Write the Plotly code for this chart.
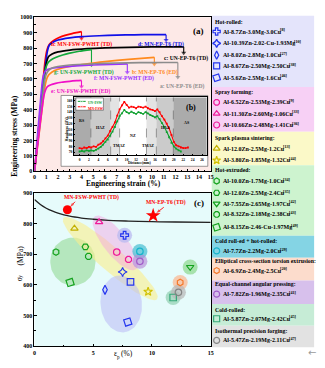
import numpy as np
import plotly.graph_objects as go

# ===================== DATA =====================
# Panel (a): engineering stress (MPa) vs engineering strain (%)
h_strain = [0, 0.5, 0.9, 1.05, 1.2, 1.4, 1.7, 2.1, 2.6, 3.2, 3.7, 4.0]
h_stress = [0, 400, 715, 785, 815, 835, 852, 868, 882, 894, 902, 907]
d_strain = [0, 0.5, 0.95, 1.1, 1.25, 1.5, 2.0, 3.0, 4.0, 5.5, 7.0, 8.5, 10.0, 11.2]
d_stress = [0, 370, 700, 780, 818, 835, 852, 866, 874, 880, 884, 886, 887, 887]
c_strain = [0, 0.5, 0.9, 1.05, 1.2, 1.5, 2.0, 3.0, 4.5, 6.0, 8.0, 10.0, 12.7]
c_stress = [0, 360, 650, 715, 745, 762, 775, 787, 796, 801, 805, 807, 808]
g_strain = [0, 0.5, 0.85, 1.0, 1.15, 1.4, 1.8, 2.4, 3.0, 3.8, 4.85]
g_stress = [0, 370, 630, 680, 705, 722, 738, 755, 767, 779, 790]
b_strain = [0, 0.5, 0.85, 1.0, 1.2, 1.5, 2.0, 3.0, 4.5, 6.0, 8.0, 10.2]
b_stress = [0, 310, 530, 590, 625, 645, 662, 680, 698, 712, 727, 740]
f_strain = [0, 0.4, 0.7, 0.85, 1.0, 1.3, 1.8, 2.5, 3.5, 5.0, 6.5, 7.9]
f_stress = [0, 360, 600, 640, 655, 665, 672, 678, 684, 690, 694, 697]
a_strain = [0, 0.5, 0.85, 1.0, 1.2, 1.5, 2.0, 3.0, 5.0, 7.0, 9.0, 11.0, 12.2]
a_stress = [0, 340, 580, 630, 655, 670, 680, 690, 698, 703, 705, 706, 706]
e_strain = [0, 0.5, 0.8, 0.95, 1.1, 1.4, 1.8, 2.3, 3.0, 3.6, 4.0]
e_stress = [0, 320, 490, 530, 550, 562, 571, 578, 584, 588, 590]

curve_labels = ["h: MN-FSW-PWHT (TD)", "d: MN-EP-T6 (TD)", "c: UN-EP-T6 (TD)",
                "g: UN-FSW-PWHT (TD)", "b: MN-EP-T6 (ED)", "f: MN-FSW-PWHT (ED)",
                "a: UN-EP-T6 (ED)", "e: UN-FSW-PWHT (ED)"]

# Inset (b): hardness profile
dist_mn = [0.0, 0.5, 1.0, 1.5, 2.0, 2.5, 3.0, 3.5, 4.0, 4.5, 5.0, 5.5, 6.0, 6.5, 7.0, 7.5,
           8.0, 8.5, 9.0, 9.5, 10.0, 10.5, 11.0, 11.5, 12.0, 12.5, 13.0, 13.5, 14.0, 14.5,
           15.0, 15.5, 16.0, 16.5, 17.0, 17.5, 18.0, 18.5, 19.0, 19.5, 20.0, 20.5, 21.0,
           21.5, 22.0, 22.5, 23.0]
hv_mn = [77, 76, 78, 77, 79, 78, 80, 79, 83, 85, 89, 94, 99, 107, 114, 122,
         134, 145, 152, 158, 153, 148, 150, 149, 147, 150, 149, 148, 150, 147,
         145, 144, 142, 145, 140, 133, 127, 120, 112, 100, 88, 82, 80,
         78, 77, 77, 78]
dist_un = [0.0, 0.5, 1.0, 1.5, 2.0, 2.5, 3.0, 3.5, 4.0, 4.5, 5.0, 5.5, 6.0, 6.5, 7.0, 7.5,
           8.0, 8.5, 9.0, 9.5, 10.0, 10.5, 11.0, 11.5, 12.0, 12.5, 13.0, 13.5, 14.0, 14.5,
           15.0, 15.5, 16.0, 16.5, 17.0, 17.5, 18.0, 18.5, 19.0, 19.5, 20.0, 20.5, 21.0, 21.5]
hv_un = [71, 72, 71, 73, 72, 73, 72, 74, 76, 79, 83, 88, 92, 99, 106, 114,
         124, 133, 138, 144, 140, 138, 141, 139, 137, 140, 139, 137, 140, 138,
         135, 133, 131, 133, 128, 121, 114, 105, 96, 86, 80, 76, 73, 71]
zone_names = ["RS", "HAZ", "TMAZ", "NZ", "TMAZ", "HAZ", "AS"]
zone_edges = [-1.2, 2.4, 6.6, 8.5, 14.2, 16.3, 19.9, 27.0]

# Panel (c): yield strength vs plastic elongation
group_names = ["Hot-rolled:", "Spray forming:", "Spark plasma sintering:", "Hot-extruded:",
               "Cold roll-ed + hot-rolled:", "Elliptical cross-section torsion extrusion:",
               "Equal-channel angular pressing:", "Cold-rolled:", "Isothermal precision forging:"]
group_sizes = [5, 3, 2, 5, 1, 1, 1, 1, 1]
alloys = ["Al-8.7Zn-3.0Mg-3.0Cu", "Al-10.39Zn-2.02-Cu-1.93Mg", "Al-8.0Zn-2.8Mg-1.0Cu",
          "Al-8.67Zn-2.50Mg-2.50Cu", "Al-5.6Zn-2.5Mg-1.6Cu",
          "Al-6.52Zn-2.53Mg-2.39Cu", "Al-11.30Zn-2.60Mg-1.06Cu", "Al-10.66Zn-2.48Mg-1.41Cu",
          "Al-12.0Zn-2.5Mg-1.2Cu", "Al-3.80Zn-1.85Mg-1.32Cu",
          "Al-10.0Zn-1.7Mg-1.0Cu", "Al-12.0Zn-2.5Mg-2.4Cu", "Al-7.55Zn-2.65Mg-1.97Cu",
          "Al-8.32Zn-2.18Mg-2.38Cu", "Al-8.15Zn-2.46-Cu-1.97Mg",
          "Al-7.7Zn-2.2Mg-2.0Cu", "Al-6.9Zn-2.4Mg-2.5Cu", "Al-7.82Zn-1.96Mg-2.35Cu",
          "Al-5.87Zn-2.07Mg-2.42Cu", "Al-5.47Zn-2.19Mg-2.11Cu"]
refs = [8, 10, 27, 38, 46, 9, 33, 36, 13, 44, 34, 35, 42, 43, 49, 29, 20, 41, 45, 47]
ep_vals = [7.67, 7.5, 6.0, 8.17, 7.94, 8.0, 5.5, 7.0, 3.4, 9.67,
           1.83, 4.33, 13.25, 4.6, 3.03, 8.97, 12.4, 8.97, 11.8, 12.25]
sy_vals = [762, 642, 584, 610, 479, 683, 805, 707, 784, 578,
           707, 724, 658, 693, 608, 709, 608, 677, 559, 576]
mn_fsw_pt = (2.8, 845)
mn_ep_pt = (10.1, 826)
bound_ep = [0, 0.5, 1, 1.5, 2, 3, 4, 5, 6, 8, 10, 12, 15]
bound_sy = [878, 862, 850, 841, 834, 824, 818, 814, 811, 808, 806, 805, 804]

# ===================== STYLE / LAYOUT =====================
W, H = 325, 368
SERIF = "Liberation Serif"

def pxx(x):
    return x / W

def pxy(y):
    return 1 - y / H

def F(size, color="black", bold=True, family=SERIF):
    return dict(family=family, size=size, color=color, weight="bold" if bold else "normal")

# advance widths (1/1000 em) of Liberation Serif Bold, used to place superscripts
_TW = {" ": 250, "-": 333, ".": 250, "A": 722, "l": 278, "Z": 667, "n": 556, "M": 944, "g": 500,
       "C": 722, "u": 556}

def text_w(s, size):
    return sum(_TW.get(ch, 500) for ch in s) * size / 1000.0

A_X, A_Y = (33, 212), (14.5, 171)
B_X, B_Y = (73, 208), (96, 155)
C_X, C_Y = (33, 212), (193, 349)
C_XR, C_YR = (0, 15), (400, 900)
SXC = (C_X[1] - C_X[0]) / (C_XR[1] - C_XR[0])
SYC = (C_Y[1] - C_Y[0]) / (C_YR[1] - C_YR[0])

curve_colors = ["#ff0000", "#1010e8", "#000000", "#14a83c", "#ff8a1e", "#9b30ff", "#8c8c8c", "#f010c8"]
label_pos = [(1.42, 824, "left"), (8.8, 824, "left"), (14.75, 732, "right"),
             (1.68, 642, "left"), (8.3, 639, "left"), (5.03, 604, "left"),
             (14.5, 550, "right"), (1.42, 518, "left")]
drops = [45, 35, 40, 100, 45, 55, 95, 40]

fig = go.Figure()

shapes = []
shapes.append(dict(type="rect", xref="paper", yref="paper", x0=pxx(A_X[0]), x1=pxx(A_X[1]),
                   y0=pxy(A_Y[1]), y1=pxy(A_Y[0]), fillcolor="#fde9e7", line_width=0, layer="below"))
shapes.append(dict(type="rect", xref="paper", yref="paper", x0=pxx(60), x1=pxx(209),
                   y0=pxy(166), y1=pxy(94), fillcolor="white", line=dict(color="#555", width=0.6), layer="below"))
zone_cols = ["#ababab", "#cbcbcb", "#e3e3e3", "#ffffff", "#e3e3e3", "#cbcbcb", "#ababab"]
for i, zc in enumerate(zone_cols):
    shapes.append(dict(type="rect", xref="x2", yref="paper", x0=zone_edges[i], x1=zone_edges[i + 1],
                       y0=pxy(B_Y[1]), y1=pxy(B_Y[0]), fillcolor=zc, line_width=0, layer="below"))
for e in zone_edges[1:-1]:
    shapes.append(dict(type="line", xref="x2", yref="paper", x0=e, x1=e,
                       y0=pxy(B_Y[1]), y1=pxy(B_Y[0]), line=dict(color="#444", width=0.5, dash="dash"), layer="below"))
shapes.append(dict(type="rect", xref="paper", yref="paper", x0=pxx(C_X[0]), x1=pxx(C_X[1]),
                   y0=pxy(C_Y[1]), y1=pxy(C_Y[0]), fillcolor="#e6fbfb", line_width=0, layer="below"))
sec_bounds = [13, 85.5, 131, 165, 236.5, 259, 282, 306, 328, 350]
sec_cols = ["#e4e4fb", "#f7d0f5", "#fbf9c8", "#cdf3cf", "#84d4e4", "#fcdccc", "#d7c0ec", "#c6ecd6", "#e2e2e2"]
for i, sc in enumerate(sec_cols):
    shapes.append(dict(type="rect", xref="paper", yref="paper", x0=pxx(213), x1=pxx(317),
                       y0=pxy(sec_bounds[i + 1]), y1=pxy(sec_bounds[i]), fillcolor=sc, line_width=0, layer="below"))

annotations = []

# ---- panel (a) curves with fracture arrows
curves = [(h_strain, h_stress), (d_strain, d_stress), (c_strain, c_stress), (g_strain, g_stress),
          (b_strain, b_stress), (f_strain, f_stress), (a_strain, a_stress), (e_strain, e_stress)]
for (xs, ys), col, lab, (lx, ly, anc), dr in zip(curves, curve_colors, curve_labels, label_pos, drops):
    fig.add_trace(go.Scatter(x=xs, y=ys, mode="lines", line=dict(color=col, width=1.7, shape="spline", smoothing=0.6),
                             xaxis="x", yaxis="y", hoverinfo="skip"))
    fig.add_trace(go.Scatter(x=[xs[-1], xs[-1]], y=[ys[-1], ys[-1] - dr], mode="lines+markers",
                             line=dict(color=col, width=1.1),
                             marker=dict(symbol="triangle-down", size=[0, 4.5], color=col, line_width=0),
                             xaxis="x", yaxis="y", hoverinfo="skip"))
    annotations.append(dict(x=lx, y=ly, xref="x", yref="y", text=lab, showarrow=False,
                            xanchor=anc, yanchor="middle", font=F(5.6, col)))

# ---- inset (b)
fig.add_trace(go.Scatter(x=dist_un, y=hv_un, mode="lines+markers", line=dict(color="#10a030", width=1.1),
                         marker=dict(symbol="square", size=1.8, color="#10a030"), xaxis="x2", yaxis="y2", hoverinfo="skip"))
fig.add_trace(go.Scatter(x=dist_mn, y=hv_mn, mode="lines+markers", line=dict(color="#ff0000", width=1.1),
                         marker=dict(symbol="square", size=1.8, color="#ff0000"), xaxis="x2", yaxis="y2", hoverinfo="skip"))
zone_lab = [(0.6, 125), (4.5, 114), (8.3, 82), (11.4, 99), (14.6, 82), (18.2, 114), (22.7, 122)]
for nm, (zx, zy) in zip(zone_names, zone_lab):
    annotations.append(dict(x=zx, y=zy, xref="x2", yref="y2", text=nm, showarrow=False, font=F(4)))
annotations.append(dict(x=23.6, y=148, xref="x2", yref="y2", text="(b)", showarrow=False, font=F(8)))
annotations.append(dict(x=pxx(140), y=pxy(162.5), xref="paper", yref="paper", text="Distance(mm)",
                        showarrow=False, font=F(3.8)))
annotations.append(dict(x=pxx(63.5), y=pxy(128), xref="paper", yref="paper", text="Hardness (HV)",
                        showarrow=False, textangle=-90, font=F(3.8)))
shapes.append(dict(type="rect", xref="paper", yref="paper", x0=pxx(75), x1=pxx(103), y0=pxy(109), y1=pxy(96.5),
                   fillcolor="white", line=dict(color="#333", width=0.5), layer="below"))
for yy, col, nm in [(100, "#10a030", "UN-FSW"), (105.5, "#ff0000", "MN-FSW")]:
    fig.add_trace(go.Scatter(x=[77, 81, 85], y=[yy, yy, yy], mode="lines+markers", line=dict(color=col, width=1),
                             marker=dict(symbol="square", size=[0, 2, 0], color=col), xaxis="x4", yaxis="y4", hoverinfo="skip"))
    annotations.append(dict(x=pxx(87), y=pxy(yy), xref="paper", yref="paper", text=nm,
                            showarrow=False, xanchor="left", font=F(3.6, col)))

# ---- panel (c)
ellipses = [  # (centre ep, centre sy, semi-axis a px, semi-axis b px, angle deg, colour)
    (3.27, 676, 23, 24.5, 0, "rgba(140,215,140,0.55)"),
    (6.45, 686, 63, 12, 41, "rgba(250,238,140,0.6)"),
    (6.87, 737, 34, 12, 52, "rgba(245,160,225,0.45)"),
    (7.38, 538, 21, 29, -6, "rgba(185,185,245,0.55)"),
]
t = np.linspace(0, 2 * np.pi, 90)
for cx, cy, a, b, ang, col in ellipses:
    th = np.deg2rad(ang)
    dxp = a * np.cos(t) * np.cos(th) - b * np.sin(t) * np.sin(th)
    dyp = a * np.cos(t) * np.sin(th) + b * np.sin(t) * np.cos(th)
    fig.add_trace(go.Scatter(x=cx + dxp / SXC, y=cy - dyp / SYC, mode="lines", fill="toself", fillcolor=col,
                             line=dict(width=0), xaxis="x3", yaxis="y3", hoverinfo="skip"))

symbols = ["cross-open", "star-diamond-open", "diamond-tall-open", "square-open", "square-open",
           "octagon-open", "triangle-up-open", "circle-open",
           "triangle-up-open", "star-open",
           "hexagon-open", "hexagon2-open", "triangle-down-open", "octagon-open", "square-open",
           "circle-open", "hexagon-open", "circle-open", "square-open", "circle-open"]
angles = [0, 0, 0, 0, -18, 0, 0, 0, 0, 0, 0, 0, 0, 0, -18, 0, 0, 0, 0, 0]
colors = ["#2436ee"] * 5 + ["#ee1c9a"] * 3 + ["#c2b000", "#d0c000"] + ["#14a21e"] * 5 + \
         ["#18b4cc", "#f47a2c", "#a05cc8", "#36a878", "#858585"]
halos = {0: "rgba(185,185,240,0.75)", 12: "rgba(140,215,140,0.7)", 15: "rgba(70,190,210,0.7)",
         16: "rgba(250,185,150,0.75)", 17: "rgba(185,140,215,0.65)", 18: "rgba(150,210,180,0.75)",
         19: "rgba(185,185,185,0.75)"}
hk = list(halos.keys())
fig.add_trace(go.Scatter(x=[ep_vals[k] for k in hk], y=[sy_vals[k] for k in hk], mode="markers",
                         marker=dict(size=15, color=[halos[k] for k in hk], line_width=0),
                         xaxis="x3", yaxis="y3", hoverinfo="skip"))
fig.add_trace(go.Scatter(x=bound_ep, y=bound_sy, mode="lines", line=dict(color="#222", width=1.3, shape="spline"),
                         xaxis="x3", yaxis="y3", hoverinfo="skip"))
fig.add_trace(go.Scatter(x=ep_vals, y=sy_vals, mode="markers",
                         marker=dict(symbol=symbols, size=6.5, color=colors, angle=angles, line=dict(width=1.2, color=colors)),
                         xaxis="x3", yaxis="y3", hoverinfo="skip"))
fig.add_trace(go.Scatter(x=[mn_fsw_pt[0]], y=[mn_fsw_pt[1]], mode="markers",
                         marker=dict(symbol="circle", size=9, color="#ff0000"), xaxis="x3", yaxis="y3", hoverinfo="skip"))
fig.add_trace(go.Scatter(x=[mn_ep_pt[0]], y=[mn_ep_pt[1]], mode="markers",
                         marker=dict(symbol="star", size=11, color="#ff0000"), xaxis="x3", yaxis="y3", hoverinfo="skip"))
for (px_, py_), (tx, ty), frac in [(mn_fsw_pt, (3.45, 871), 0.35), (mn_ep_pt, (11.0, 853), 0.3)]:
    hx = px_ + (tx - px_) * frac
    hy = py_ + (ty - py_) * frac
    fig.add_trace(go.Scatter(x=[tx, hx], y=[ty, hy], mode="lines+markers", line=dict(color="#ff0000", width=0.9),
                             marker=dict(symbol="arrow", angleref="previous", size=[0, 4.5], color="#ff0000", line_width=0),
                             xaxis="x3", yaxis="y3", hoverinfo="skip"))
annotations.append(dict(x=4.85, y=884, xref="x3", yref="y3", text="MN-FSW-PWHT (TD)", showarrow=False,
                        font=F(5.6, "#ff0000")))
annotations.append(dict(x=11.2, y=868, xref="x3", yref="y3", text="MN-EP-T6 (TD)", showarrow=False,
                        font=F(5.6, "#ff0000")))

# ---- legend panel
header_y = [19, 90, 137, 170, 242, 262, 286, 312, 333]
entry_y = [29, 41, 53, 64, 76, 101, 112.5, 124, 148, 160, 181, 193, 204, 215, 228, 252, 272, 296, 321, 343]
ENTRY_X, ENTRY_FS = 224, 6
for gname, gy in zip(group_names, header_y):
    annotations.append(dict(x=pxx(216), y=pxy(gy), xref="paper", yref="paper", text=gname,
                            showarrow=False, xanchor="left", yanchor="middle", font=F(5.8)))
for nm, rf, ey in zip(alloys, refs, entry_y):
    annotations.append(dict(x=pxx(ENTRY_X), y=pxy(ey), xref="paper", yref="paper", text=nm,
                            showarrow=False, xanchor="left", yanchor="middle", font=F(ENTRY_FS)))
    annotations.append(dict(x=pxx(ENTRY_X + text_w(nm, ENTRY_FS) + 0.3), y=pxy(ey - 1.8), xref="paper", yref="paper",
                            text="[" + str(rf) + "]", showarrow=False, xanchor="left", yanchor="middle",
                            font=F(4.2)))
fig.add_trace(go.Scatter(x=[218] * len(entry_y), y=entry_y, mode="markers",
                         marker=dict(symbol=symbols, size=6, color=colors, angle=angles,
                                     line=dict(width=1.2, color=colors)),
                         xaxis="x4", yaxis="y4", hoverinfo="skip"))

# titles / panel labels
annotations += [
    dict(x=pxx(123), y=pxy(183.5), xref="paper", yref="paper", text="Engineering strain (%)", showarrow=False,
         font=F(7.5)),
    dict(x=pxx(8), y=pxy(93), xref="paper", yref="paper", text="Engineering stress (MPa)", showarrow=False,
         textangle=-90, font=F(7.5)),
    # eps_p (%)
    dict(x=pxx(116.8), y=pxy(361), xref="paper", yref="paper", text="ε", showarrow=False, xanchor="right",
         font=F(7.5, bold=False)),
    dict(x=pxx(116.9), y=pxy(362.8), xref="paper", yref="paper", text="p", showarrow=False, xanchor="left",
         font=F(5.2, bold=False)),
    dict(x=pxx(120.8), y=pxy(361), xref="paper", yref="paper", text="(%)", showarrow=False, xanchor="left",
         font=F(7.5, bold=False)),
    # sigma_y (MPa), rotated
    dict(x=pxx(14), y=pxy(282.6), xref="paper", yref="paper", text="σ", showarrow=False, textangle=-90,
         font=F(7.5, bold=False)),
    dict(x=pxx(15.8), y=pxy(279.2), xref="paper", yref="paper", text="y", showarrow=False, textangle=-90,
         font=F(5.2, bold=False)),
    dict(x=pxx(14), y=pxy(266.5), xref="paper", yref="paper", text="(MPa)", showarrow=False, textangle=-90,
         font=F(7.5, bold=False)),
    dict(x=pxx(200), y=pxy(23), xref="paper", yref="paper", text="(a)", showarrow=False, font=F(9)),
    dict(x=pxx(200), y=pxy(203), xref="paper", yref="paper", text="(c)", showarrow=False, font=F(9)),
    dict(x=pxx(319), y=pxy(361), xref="paper", yref="paper", text="←", showarrow=False,
         font=F(10, "#9a9a9a", bold=False, family="DejaVu Sans")),
]
for an in annotations:
    an.setdefault("borderpad", 0)
    an.setdefault("borderwidth", 0)

def axis(**kw):
    d = dict(showline=True, linecolor="black", linewidth=1, mirror=True, ticks="inside", ticklen=2.5,
             tickwidth=0.8, tickcolor="black", showgrid=False, zeroline=False, fixedrange=True,
             tickfont=F(6))
    d.update(kw)
    return d

fig.update_layout(
    width=W, height=H, margin=dict(l=0, r=0, t=0, b=0), paper_bgcolor="white", plot_bgcolor="rgba(0,0,0,0)",
    showlegend=False, shapes=shapes, annotations=annotations,
    xaxis=axis(domain=[pxx(A_X[0]), pxx(A_X[1])], range=[0, 15], dtick=1, tick0=0, anchor="y",
               minor=dict(ticks="inside", dtick=0.5, ticklen=1.5, tickcolor="black")),
    yaxis=axis(domain=[pxy(A_Y[1]), pxy(A_Y[0])], range=[0, 1000], dtick=100, tick0=0, anchor="x",
               minor=dict(ticks="inside", dtick=50, ticklen=1.5, tickcolor="black")),
    xaxis2=axis(domain=[pxx(B_X[0]), pxx(B_X[1])], range=[-1.2, 27], dtick=2, tick0=0, anchor="y2",
                linewidth=0.6, ticklen=1.2, tickfont=F(3.6)),
    yaxis2=axis(domain=[pxy(B_Y[1]), pxy(B_Y[0])], range=[64, 166], dtick=10, tick0=70, anchor="x2",
                linewidth=0.6, ticklen=1.2, tickfont=F(3.6)),
    xaxis3=axis(domain=[pxx(C_X[0]), pxx(C_X[1])], range=list(C_XR), dtick=5, tick0=0, anchor="y3",
                minor=dict(ticks="inside", dtick=2.5, ticklen=1.5, tickcolor="black")),
    yaxis3=axis(domain=[pxy(C_Y[1]), pxy(C_Y[0])], range=list(C_YR), dtick=100, tick0=400, anchor="x3",
                minor=dict(ticks="inside", dtick=50, ticklen=1.5, tickcolor="black")),
    xaxis4=dict(domain=[0, 1], range=[0, W], visible=False, fixedrange=True, anchor="y4"),
    yaxis4=dict(domain=[0, 1], range=[H, 0], visible=False, fixedrange=True, anchor="x4"),
)

fig.write_html("out.html")
